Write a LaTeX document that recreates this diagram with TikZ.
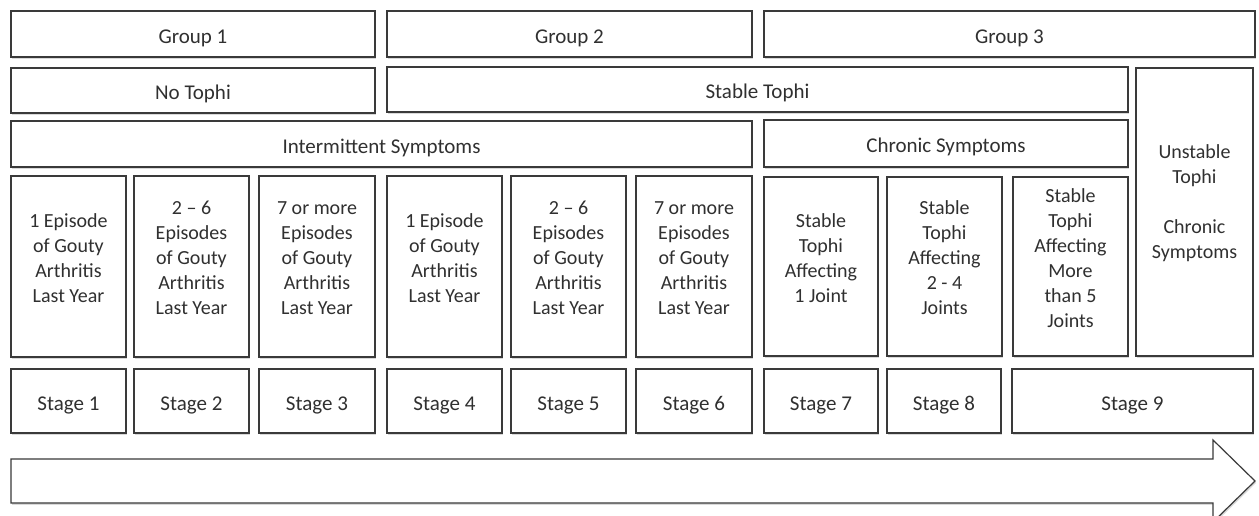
\documentclass[tikz,border=0pt]{standalone}
\usepackage{fontspec}
\setmainfont{Carlito}
\usetikzlibrary{shadows}
\definecolor{edge}{HTML}{3A3A3A}
\definecolor{txt}{HTML}{303030}
\newcommand{\gbox}[6]{\node[box, minimum width={(#4-#2)*1pt}, minimum height={(#5-#3)*1pt}] (#1) at ({(#2+#4)/2*1pt},{-(#3+#5)/2*1pt}) {#6};}
\tikzset{
  box/.style={draw=edge, line width=1.2pt, fill=white, inner sep=0pt, text=txt,
    font=\fontsize{21}{25}\selectfont, text height=19pt, text depth=0pt,
    drop shadow={shadow xshift=1.2pt, shadow yshift=-1.8pt, fill=black, opacity=0.15}},
  coltext/.style={inner sep=0pt, text=txt, font=\fontsize{20}{25}\selectfont, align=center},
  arrowline/.style={draw=edge, line width=1.2pt, fill=white, line join=miter,
    drop shadow={shadow xshift=1.2pt, shadow yshift=-1.8pt, fill=black, opacity=0.15}}
}
\begin{document}
\begin{tikzpicture}
\useasboundingbox (0,0) rectangle (1259pt,-516pt);
\fill[white] (0,0) rectangle (1259pt,-516pt);
\clip (0,0) rectangle (1259pt,-516pt);
% groups
\gbox{g1}{11}{11}{375}{57}{Group 1}
\gbox{g2}{387}{11}{752}{57}{Group 2}
\gbox{g3}{764}{11}{1255}{57}{Group 3}
% tophi
\gbox{nt}{11}{68}{375}{113}{No Tophi}
\gbox{st}{387}{67}{1128}{112}{Stable Tophi}
\gbox{ut}{1136}{68}{1253}{356}{}
% symptoms
\gbox{is}{11}{121}{752}{167}{Intermittent Symptoms}
\gbox{cs}{764}{120}{1128}{167}{Chronic Symptoms}
% columns
\gbox{c1}{11}{176}{126}{357}{}
\gbox{c2}{134}{176}{249}{357}{}
\gbox{c3}{259}{176}{375}{357}{}
\gbox{c4}{387}{176}{502}{357}{}
\gbox{c5}{511}{176}{626}{357}{}
\gbox{c6}{636}{176}{752}{357}{}
\gbox{c7}{764}{177}{878}{356}{}
\gbox{c8}{887}{177}{1002}{356}{}
\gbox{c9}{1013}{177}{1128}{356}{}
\node[coltext] (t1) at ([yshift=8.5pt]c1.center) {1 Episode\\of Gouty\\Arthritis\\Last Year};
\node[coltext] (t2) at ([yshift=8.5pt]c2.center) {2 -- 6\\Episodes\\of Gouty\\Arthritis\\Last Year};
\node[coltext] (t3) at ([yshift=8.5pt]c3.center) {7 or more\\Episodes\\of Gouty\\Arthritis\\Last Year};
\node[coltext] (t4) at ([yshift=8.5pt]c4.center) {1 Episode\\of Gouty\\Arthritis\\Last Year};
\node[coltext] (t5) at ([yshift=8.5pt]c5.center) {2 -- 6\\Episodes\\of Gouty\\Arthritis\\Last Year};
\node[coltext] (t6) at ([yshift=8.5pt]c6.center) {7 or more\\Episodes\\of Gouty\\Arthritis\\Last Year};
\node[coltext] (t7) at ([yshift=8.5pt]c7.center) {Stable\\Tophi\\Affecting\\1 Joint};
\node[coltext] (t8) at ([yshift=8.5pt]c8.center) {Stable\\Tophi\\Affecting\\2 - 4\\Joints};
\node[coltext] (t9) at ([yshift=8.5pt]c9.center) {Stable\\Tophi\\Affecting\\More\\than 5\\Joints};
\node[coltext] (tu) at ([yshift=9pt]ut.center) {Unstable\\Tophi\\[25pt]Chronic\\Symptoms};
% stages
\gbox{s1}{11}{369}{126}{433}{Stage 1}
\gbox{s2}{134}{369}{249}{433}{Stage 2}
\gbox{s3}{259}{369}{375}{433}{Stage 3}
\gbox{s4}{387}{369}{502}{433}{Stage 4}
\gbox{s5}{511}{369}{626}{433}{Stage 5}
\gbox{s6}{636}{369}{752}{433}{Stage 6}
\gbox{s7}{764}{369}{878}{433}{Stage 7}
\gbox{s8}{887}{369}{1001}{433}{Stage 8}
\gbox{s9}{1012}{369}{1253}{433}{Stage 9}
% progression arrow
\draw[arrowline] (11pt,-459pt) -- (1213pt,-459pt) -- (1213pt,-440pt) -- (1255pt,-481pt)
  -- (1213pt,-522pt) -- (1213pt,-503pt) -- (11pt,-503pt) -- cycle;
\end{tikzpicture}
\end{document}
